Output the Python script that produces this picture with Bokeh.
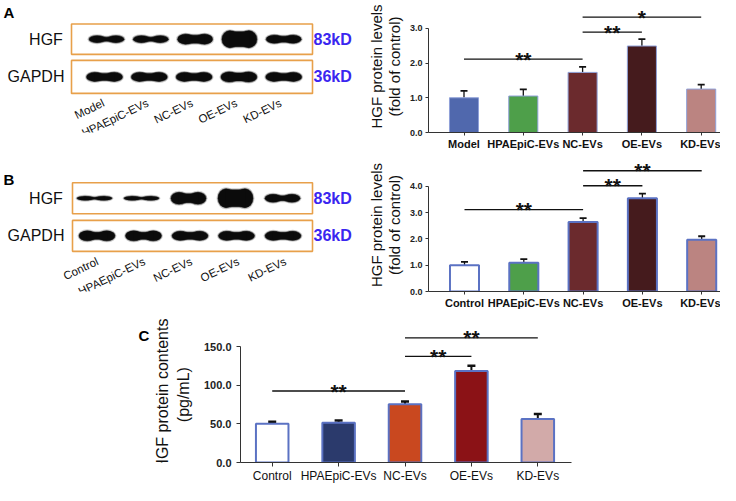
import math
from bokeh.plotting import figure
from bokeh.layouts import column, row
from bokeh.models import Range1d, FixedTicker, Whisker, ColumnDataSource, TeeHead, NumeralTickFormatter
from bokeh.core.properties import value
from bokeh.embed import file_html
from bokeh.resources import INLINE

# ---------------- data ----------------
categories_A = ["Model", "HPAEpiC-EVs", "NC-EVs", "OE-EVs", "KD-EVs"]
categories_B = ["Control", "HPAEpiC-EVs", "NC-EVs", "OE-EVs", "KD-EVs"]
categories_C = ["Control", "HPAEpiC-EVs", "NC-EVs", "OE-EVs", "KD-EVs"]

values_A = [1.00, 1.05, 1.73, 2.49, 1.25]
errors_A = [0.20, 0.19, 0.16, 0.20, 0.13]
values_B = [1.00, 1.09, 2.64, 3.55, 1.97]
errors_B = [0.13, 0.14, 0.15, 0.17, 0.13]
values_C = [50.1, 51.4, 75.4, 118.5, 56.4]
errors_C = [2.5, 3.0, 3.4, 6.8, 6.4]

# significance brackets: (from index, to index, height, mark)
sig_A = [(0, 2, 2.11, "**"), (2, 3, 2.89, "**"), (2, 4, 3.32, "*")]
sig_B = [(0, 2, 3.11, "**"), (2, 3, 4.02, "**"), (2, 4, 4.59, "**")]
sig_C = [(0, 2, 92.5, "**"), (2, 3, 137.3, "**"), (2, 4, 161.3, "**")]

yticks_A = [0, 1, 2, 3]
yticks_B = [0, 1, 2, 3, 4]
yticks_C = [0, 50, 100, 150]

ylabel_AB = ["HGF protein levels", "(fold of control)"]
ylabel_C = ["HGF protein contents", "(pg/mL)"]

# western blot band thickness (px) per lane: outer lobes / waist
hgf_A_lobe = [7, 7, 10, 17, 8]
hgf_A_waist = [4, 4, 8, 15, 6]
gapdh_A_lobe = [9, 9, 9, 10, 9]
gapdh_A_waist = [7, 7, 7, 8, 7]
hgf_B_lobe = [4, 4, 12, 19, 8]
hgf_B_waist = [2, 2, 9, 17, 5]
gapdh_B_lobe = [10, 10, 9, 9, 9]
gapdh_B_waist = [7, 7, 7, 7, 7]

# ---------------- styles ----------------
FONT = value("Liberation Sans")
colors_A = ["#5068ad", "#4e9f4a", "#6b2a2d", "#451b1d", "#bb8481"]
colors_B = ["#ffffff", "#4e9f4a", "#6b2a2d", "#451b1d", "#bb8481"]
colors_C = ["#ffffff", "#2b3a6c", "#c9481f", "#8b1216", "#d2aaa9"]
ORANGE = "#e8a04a"
BLUE_TXT = "#3a26f0"
LANE_ANGLE = 0.45


def Y(v):
    return -v


def blot_figure(x0, x1, y0, y1):
    p = figure(width=x1 - x0, height=y1 - y0, x_range=Range1d(x0, x1),
               y_range=Range1d(-y1, -y0), toolbar_location=None,
               output_backend="svg", min_border=0,
               x_axis_location=None, y_axis_location=None)
    p.grid.visible = False
    p.outline_line_color = None
    return p


def draw_bands(p, xs, yc, width, lobe, waist):
    for halo, alpha, col in [(3, 0.2, "#000000"), (1.2, 0.5, "#000000"), (0, 1.0, "#0b0b0b")]:
        lx = [x - 0.27 * width for x in xs]
        rx = [x + 0.27 * width for x in xs]
        hs = [h + halo for h in lobe]
        p.ellipse(x=lx + rx, y=[Y(yc)] * (2 * len(xs)), width=0.46 * width + halo,
                  height=hs + hs, width_units="screen", height_units="screen",
                  fill_color=col, fill_alpha=alpha, line_color=None)
        p.rect(x=xs, y=[Y(yc)] * len(xs), width=0.56 * width + halo,
               height=[h + halo for h in waist], width_units="screen",
               height_units="screen", fill_color=col, fill_alpha=alpha, line_color=None)


def blot_panel(p, letter, letter_y, box1, box2, lanes_x, lanes_x2, lanes, lbl_dx, lbl_y,
               hl, hw, gl, gw):
    p.text(x=[3], y=[Y(letter_y)], text=[letter], text_font=FONT, text_font_size="15px",
           text_font_style="bold", text_baseline="top", text_align="left")
    for (l, r, t, b) in (box1, box2):
        p.quad(left=[l], right=[r], top=[Y(t)], bottom=[Y(b)], fill_color=None,
               line_color=ORANGE, line_width=1.6)
    y1 = (box1[2] + box1[3]) / 2
    y2 = (box2[2] + box2[3]) / 2
    draw_bands(p, lanes_x, y1, 35, hl, hw)
    draw_bands(p, lanes_x2, y2, 36, gl, gw)
    p.text(x=[45.5], y=[Y(y1)], text=["HGF"], text_font=FONT, text_font_size="16px",
           text_align="center", text_baseline="middle", text_color="#111111")
    p.text(x=[35.5], y=[Y(y2)], text=["GAPDH"], text_font=FONT, text_font_size="16px",
           text_align="center", text_baseline="middle", text_color="#111111")
    p.text(x=[313, 313], y=[Y(y1), Y(y2)], text=["83kD", "36kD"], text_font=FONT,
           text_font_size="16px", text_font_style="bold", text_color=BLUE_TXT,
           text_align="left", text_baseline="middle")
    p.text(x=[x + lbl_dx for x in lanes_x], y=[Y(lbl_y)] * len(lanes), text=lanes,
           text_font=FONT, text_font_size="11.5px", text_align="right",
           text_baseline="middle", angle=LANE_ANGLE, text_color="#111111")


def bar_chart(width, height, mb_left, mb_right, mb_top, mb_bottom, xr, yr,
              cats, vals, errs, cols, outline, olw, sig, yticks, ylabel,
              tick_font, ytick_font, xbold, tick_out, err_lw, head, ystandoff):
    p = figure(width=width, height=height, x_range=Range1d(*xr), y_range=Range1d(*yr),
               toolbar_location=None, output_backend="svg",
               min_border_left=mb_left, min_border_right=mb_right,
               min_border_top=mb_top, min_border_bottom=mb_bottom)
    p.grid.visible = False
    p.outline_line_color = None
    xs = list(range(len(cats)))
    p.vbar(x=xs, top=vals, bottom=0, width=0.49, fill_color=cols,
           line_color=outline, line_width=olw)
    src = ColumnDataSource(dict(x=xs, lower=vals, upper=[v + e for v, e in zip(vals, errs)]))
    p.add_layout(Whisker(source=src, base="x", lower="lower", upper="upper",
                         line_color="#111111", line_width=err_lw, lower_head=None,
                         upper_head=TeeHead(size=head, line_width=err_lw + 0.5,
                                            line_color="#111111")))
    for (a, b, h, mark) in sig:
        p.segment(x0=[a], y0=[h], x1=[b], y1=[h], line_color="#111111", line_width=1.3)
        p.text(x=[(a + b) / 2], y=[h], text=[mark], text_font=FONT, text_font_size="21px",
               text_font_style="bold", text_align="center", text_baseline="alphabetic",
               y_offset=0, text_color="#111111")
    xa = p.xaxis[0]
    xa.ticker = FixedTicker(ticks=xs)
    xa.major_label_overrides = {i: c for i, c in zip(xs, cats)}
    xa.major_label_text_font = "Liberation Sans"
    xa.major_label_text_font_size = tick_font
    xa.major_label_text_font_style = "bold" if xbold else "normal"
    xa.major_label_text_color = "#111111"
    xa.major_tick_out = tick_out
    xa.major_tick_in = 0
    xa.minor_tick_out = 0
    xa.minor_tick_in = 0
    xa.major_label_standoff = 2
    ya = p.yaxis[0]
    ya.ticker = FixedTicker(ticks=yticks)
    ya.bounds = (yticks[0], yticks[-1])
    ya.formatter = NumeralTickFormatter(format="0.0")
    ya.major_label_text_font = "Liberation Sans"
    ya.major_label_text_font_size = ytick_font
    ya.major_label_text_font_style = "bold"
    ya.major_label_text_color = "#222222"
    ya.major_tick_out = tick_out
    ya.major_tick_in = 0
    ya.minor_tick_out = 0
    ya.minor_tick_in = 0
    ya.major_label_standoff = ystandoff
    if ylabel:
        ya.axis_label = ylabel
        ya.axis_label_text_font = "Liberation Sans"
        ya.axis_label_text_font_style = "normal"
        ya.axis_label_text_font_size = "15px"
        ya.axis_label_text_color = "#111111"
        ya.axis_label_text_line_height = 1.05
        ya.axis_label_standoff = 4
    for ax in (xa, ya):
        ax.axis_line_color = "#333333"
        ax.major_tick_line_color = "#333333"
    return p


# ---------------- panel A ----------------
blotA = blot_figure(0, 365, 0, 152)
blot_panel(blotA, "A", 4, (71, 312, 27, 62), (71, 312, 69, 107),
           [106 + 44.3 * i for i in range(5)], [104 + 44.8 * i for i in range(5)],
           categories_A, -3, 117, hgf_A_lobe, hgf_A_waist, gapdh_A_lobe, gapdh_A_waist)

step = 59.3
chartA = bar_chart(355, 152, 63, 0, 0, 19,
                   (-(463.5 - 428) / step, 4 + (720 - 700.7) / step), (0, 133 / 35.0),
                   categories_A, values_A, errors_A, colors_A, "#8fa0d8", 1, sig_A,
                   yticks_A, "\n".join(ylabel_AB), "11px", "9px",
                   True, 3, 1.3, 7, 3)

# ---------------- panel B ----------------
blotB = blot_figure(0, 365, 152, 311)
blot_panel(blotB, "B", 167, (72, 312, 181, 218), (72, 312, 226, 263),
           [94 + 47 * i for i in range(5)], [96.5 + 46.5 * i for i in range(5)],
           categories_B, 3, 274, hgf_B_lobe, hgf_B_waist, gapdh_B_lobe, gapdh_B_waist)

chartB = bar_chart(355, 159, 63, 0, 6, 19,
                   (-(464 - 428) / step, 4 + (720 - 701.2) / step), (0, 134 / 26.5),
                   categories_B, values_B, errors_B, colors_B, "#5b72c3", 2, sig_B,
                   yticks_B, "\n".join(ylabel_AB), "11px", "9px",
                   True, 3, 1.3, 7, 3)

# ---------------- panel C ----------------
leftC = blot_figure(0, 200, 311, 485)
leftC.text(x=[138], y=[Y(321)], text=["C"], text_font=FONT, text_font_size="15px",
           text_font_style="bold", text_baseline="top", text_align="left")
leftC.text(x=[162, 183], y=[Y(403), Y(403)], text=ylabel_C, text_font=FONT,
           text_font_size="16px", text_align="center", text_baseline="middle",
           angle=math.pi / 2, text_color="#111111")

stepC = 67.0
chartC = bar_chart(520, 174, 37, 149, 7, 20,
                   (-(269 - 237) / stepC, 4 + (571 - 537) / stepC), (0, 147 / 0.789),
                   categories_C, values_C, errors_C, colors_C, "#5b72c3", 2, sig_C,
                   yticks_C, None, "12px", "11px",
                   False, 4, 2, 8, 5)

layout = column(row(blotA, chartA), row(blotB, chartB), row(leftC, chartC))

open("out.html", "w").write(file_html(layout, INLINE))
